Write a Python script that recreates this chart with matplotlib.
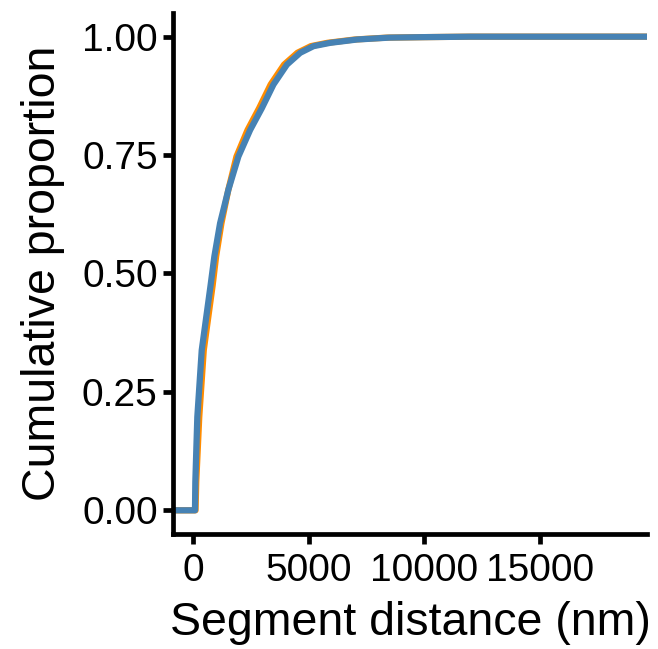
import numpy as np
import matplotlib.pyplot as plt

plt.rcParams['font.family'] = ['Liberation Sans', 'DejaVu Sans']

dist_orange = [110, 140, 270, 465, 850, 1000, 1230, 1530, 1880, 2360, 2860,
               3360, 3940, 4520, 5100, 5820, 7000, 8400, 10000, 12000, 18500]
prop_orange = [0, 0.06, 0.197, 0.338, 0.475, 0.536, 0.606, 0.677, 0.747, 0.803,
               0.849, 0.899, 0.941, 0.966, 0.98, 0.987, 0.994, 0.998, 0.999, 1.0, 1.0]
dist_blue = [85, 100, 186, 377, 760, 924, 1171, 1531, 1964, 2472, 2979,
             3482, 4064, 4640, 5217, 5941, 7100, 8500, 10000, 12000, 18670]
prop_blue = [0, 0.06, 0.197, 0.338, 0.475, 0.536, 0.606, 0.677, 0.747, 0.803,
             0.849, 0.899, 0.941, 0.966, 0.98, 0.987, 0.994, 0.998, 0.999, 1.0, 1.0]

x_ticks = [0, 5000, 10000, 15000]
y_ticks = [0, 0.25, 0.5, 0.75, 1.0]

fig = plt.figure(figsize=(6.58, 6.49), dpi=100)
ax = fig.add_axes([0.2629, 0.1772, 0.7204, 0.8028])

# pad the curves out to the panel edges like stat_ecdf
for d, p, c in [(dist_orange, prop_orange, '#FF8C00'), (dist_blue, prop_blue, '#4682B4')]:
    xs = np.concatenate([[-1e5], d, [1e5]])
    ys = np.concatenate([[0], p, [1]])
    ax.plot(xs, ys, color=c, lw=4.5, solid_capstyle='butt', solid_joinstyle='round')

ax.set_xlim(-867, 19650)
ax.set_ylim(-0.05, 1.05)
ax.set_xticks(x_ticks)
ax.set_xticklabels([str(v) for v in x_ticks])
ax.set_yticks(y_ticks)
ax.set_yticklabels([f'{v:.2f}' for v in y_ticks])

for s in ['top', 'right']:
    ax.spines[s].set_visible(False)
for s in ['left', 'bottom']:
    ax.spines[s].set_linewidth(3.4)
    ax.spines[s].set_color('black')
    ax.spines[s].set_capstyle('projecting')
ax.tick_params(width=3.4, length=7, labelsize=28, colors='black')
ax.tick_params(axis='x', pad=7)
ax.tick_params(axis='y', pad=4)

ax.set_xlabel('Segment distance (nm)', fontsize=33.5, labelpad=8)
ax.set_ylabel('Cumulative proportion', fontsize=33.5, labelpad=12)

fig.savefig('out.png', dpi=100)
